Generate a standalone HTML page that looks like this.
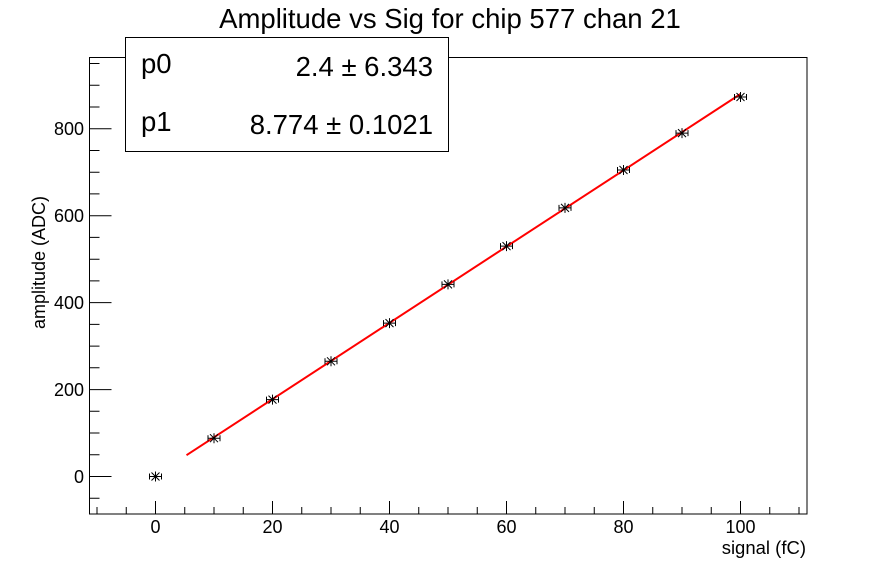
<!DOCTYPE html>
<html><head><style>body{margin:0;background:#fff}svg{display:block}text{font-family:"Liberation Sans",sans-serif}</style></head><body>
<svg width="896" height="572" viewBox="0 0 896 572" xmlns="http://www.w3.org/2000/svg" xmlns:xlink="http://www.w3.org/1999/xlink">
<defs>
<g id="m" stroke="#000" stroke-width="1" fill="none">
<path d="M-6 0H6M-6 -3V3M6 -3V3M0 -5V5M-4 -4L4 4M-4 4L4 -4"/>
</g>
</defs>
<rect width="896" height="572" fill="#fff"/>
<text x="450" y="28" font-size="27.5" text-anchor="middle">Amplitude vs Sig for chip 577 chan 21</text>
<rect x="89.5" y="57.5" width="717.5" height="456.5" fill="none" stroke="#000" stroke-width="1"/>
<path stroke="#000" stroke-width="1" fill="none" d="
M97 514v-7M126.25 514v-7M155.5 514v-13M184.75 514v-7M214 514v-7M243.25 514v-7M272.5 514v-13M301.75 514v-7M331 514v-7M360.25 514v-7M389.5 514v-13M418.75 514v-7M448 514v-7M477.25 514v-7M506.5 514v-13M535.75 514v-7M565 514v-7M594.25 514v-7M623.5 514v-13M652.75 514v-7M682 514v-7M711.25 514v-7M740.5 514v-13M769.75 514v-7M799 514v-7
M89.5 498.2h10M89.5 476.5h22M89.5 454.8h10M89.5 433h10M89.5 411.3h10M89.5 389.6h22M89.5 367.8h10M89.5 346.1h10M89.5 324.4h10M89.5 302.6h22M89.5 280.9h10M89.5 259.2h10M89.5 237.4h10M89.5 215.7h22M89.5 193.9h10M89.5 172.2h10M89.5 150.5h10M89.5 128.7h22M89.5 107h10M89.5 85.3h10M89.5 63.5h10"/>
<g font-size="18" text-anchor="middle">
<text x="155.5" y="533">0</text><text x="272.5" y="533">20</text><text x="389.5" y="533">40</text><text x="506.5" y="533">60</text><text x="623.5" y="533">80</text><text x="740.5" y="533">100</text>
</g>
<g font-size="18" text-anchor="end">
<text x="84" y="483">0</text><text x="84" y="396">200</text><text x="84" y="309">400</text><text x="84" y="222">600</text><text x="84" y="135">800</text>
</g>
<polyline points="186.5,455.2 740.5,94" fill="none" stroke="#f00" stroke-width="2"/>
<use xlink:href="#m" href="#m" x="155.5" y="476.5"/>
<use xlink:href="#m" href="#m" x="214" y="438.2"/>
<use xlink:href="#m" href="#m" x="272.5" y="399.6"/>
<use xlink:href="#m" href="#m" x="331" y="361.3"/>
<use xlink:href="#m" href="#m" x="389.5" y="323.1"/>
<use xlink:href="#m" href="#m" x="448" y="284.4"/>
<use xlink:href="#m" href="#m" x="506.5" y="246.1"/>
<use xlink:href="#m" href="#m" x="565" y="207.9"/>
<use xlink:href="#m" href="#m" x="623.5" y="170"/>
<use xlink:href="#m" href="#m" x="682" y="133.1"/>
<use xlink:href="#m" href="#m" x="740.5" y="97"/>
<rect x="125.5" y="37.5" width="323" height="114" fill="#fff" stroke="#000" stroke-width="1"/>
<text x="141" y="73" font-size="27.5">p0</text>
<text x="433" y="76" font-size="27.5" text-anchor="end">2.4 ± 6.343</text>
<text x="141" y="131" font-size="27.5">p1</text>
<text x="433" y="134" font-size="27.5" text-anchor="end">8.774 ± 0.1021</text>
<text x="806" y="554" font-size="18.5" text-anchor="end">signal (fC)</text>
<text transform="translate(45,196) rotate(-90)" font-size="18" text-anchor="end">amplitude (ADC)</text>
</svg>
</body></html>
